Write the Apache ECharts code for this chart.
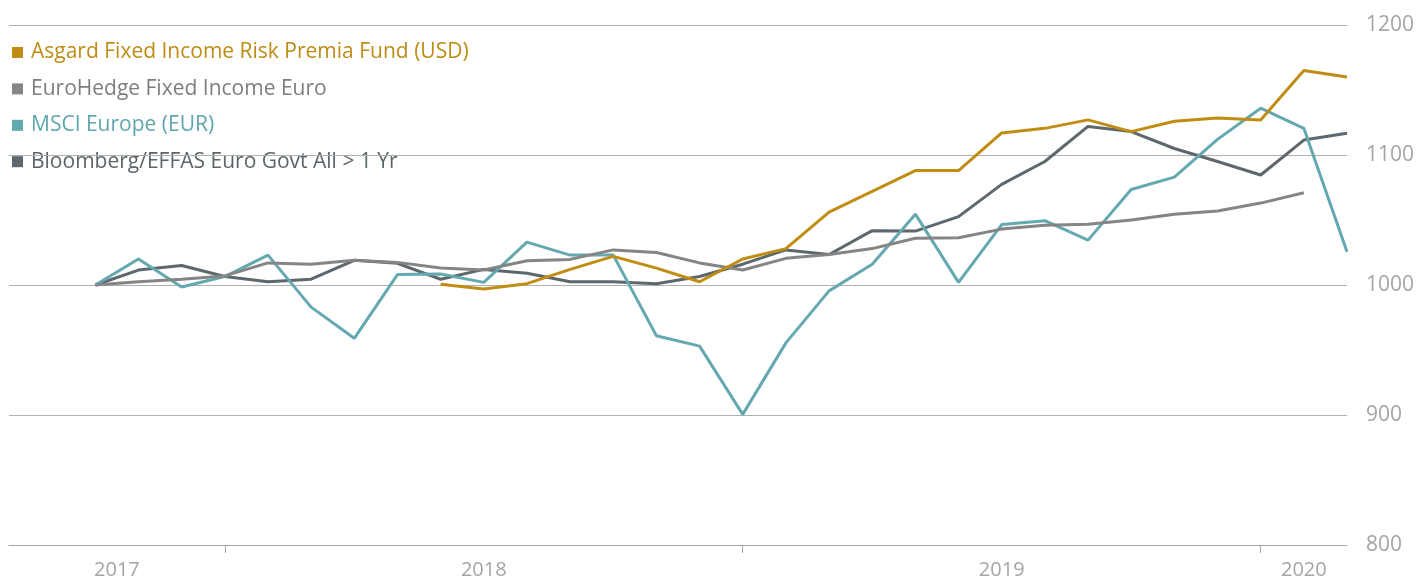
<!DOCTYPE html>
<html>
<head>
<meta charset="utf-8">
<script src="https://cdn.jsdelivr.net/npm/echarts@6/dist/echarts.min.js"></script>
<style>
  html, body { margin: 0; padding: 0; background: #fff; }
  #chart { width: 1427px; height: 583px; }
</style>
</head>
<body>
<div id="chart"></div>
<script>
// monthly points, Sep 2017 .. Feb 2020
var months = ['2017-09','2017-10','2017-11','2017-12','2018-01','2018-02','2018-03','2018-04','2018-05','2018-06',
  '2018-07','2018-08','2018-09','2018-10','2018-11','2018-12','2019-01','2019-02','2019-03','2019-04',
  '2019-05','2019-06','2019-07','2019-08','2019-09','2019-10','2019-11','2019-12','2020-01','2020-02'];

var asgard = [null, null, null, null, null, null, null, null, 1000.5, 997,
  1001, 1012, 1022, 1013, 1002.5, 1020, 1028, 1056, 1072, 1088,
  1088, 1117, 1120.5, 1127, 1118, 1126, 1128.5, 1127, 1165, 1160];

var euroHedge = [1000, 1002.5, 1004.5, 1007, 1017, 1016, 1019, 1017.4, 1013, 1011.5,
  1018.7, 1019.7, 1027, 1025, 1017, 1011.5, 1020.5, 1023.5, 1028, 1036,
  1036.4, 1043, 1046, 1046.7, 1050, 1054.5, 1057, 1063, 1071, null];

var msci = [1000, 1020, 998.5, 1006.5, 1023, 983, 959, 1008, 1008.5, 1002,
  1033, 1023, 1023, 961, 953, 900.5, 955.5, 995.5, 1016, 1054.5,
  1002, 1046.5, 1049.5, 1034.5, 1073.5, 1083, 1112, 1136, 1120.5, 1025.5];

var bloomberg = [1000, 1011.5, 1015, 1006.5, 1002.5, 1004.5, 1019, 1016.7, 1004.4, 1012,
  1009, 1002.5, 1002.5, 1001, 1006.5, 1016, 1027, 1023.5, 1041.8, 1041.5,
  1052.6, 1077.4, 1095, 1122, 1118, 1105, 1095, 1084.6, 1111.5, 1116.7];

// year boundaries (index of Dec) and year label positions (centre of each span)
var yearTicks = [3, 15, 27];
var yearLabelPos = [0.5, 9, 21, 28];
var yearLabels = ['2017', '2018', '2019', '2020'];

var names = ['Asgard Fixed Income Risk Premia Fund (USD)', 'EuroHedge Fixed Income Euro',
  'MSCI Europe (EUR)', 'Bloomberg/EFFAS Euro Govt All > 1 Yr'];
var colors = ['#C08D12', '#858585', '#64A8B0', '#5E676C'];
var textColors = ['#BE8C14', '#7E7E7E', '#5FA6AE', '#5C6569'];

function pts(arr) {
  return months.map(function (m, i) { return [i, arr[i]]; });
}

var chart = echarts.init(document.getElementById('chart'));

var series = [asgard, euroHedge, msci, bloomberg].map(function (arr, k) {
  return {
    name: names[k],
    type: 'line',
    data: pts(arr),
    showSymbol: false,
    symbol: 'none',
    connectNulls: false,
    lineStyle: { width: 3, color: colors[k] },
    itemStyle: { color: colors[k] },
    z: 10 - k
  };
});

chart.setOption({
  animation: false,
  color: colors,
  textStyle: { fontFamily: 'Open Sans' },
  legend: {
    orient: 'vertical',
    left: 7,
    top: 37,
    itemGap: 15.4,
    itemWidth: 11,
    itemHeight: 11,
    icon: 'rect',
    z: -1,
    textStyle: { fontSize: 21, padding: [0, 0, 0, 3] },
    data: names.map(function (n, k) {
      return { name: n, textStyle: { color: textColors[k] } };
    })
  },
  grid: { left: 9, right: 80, top: 25, bottom: 38 },
  xAxis: {
    type: 'value',
    min: -2,
    max: 29,
    axisLine: { show: true, lineStyle: { color: '#A6A6A6', width: 1.2 } },
    splitLine: { show: false },
    axisTick: {
      show: true,
      customValues: yearTicks,
      length: 8,
      lineStyle: { color: '#A6A6A6' }
    },
    axisLabel: {
      customValues: yearLabelPos,
      formatter: function (v) {
        var i = yearLabelPos.indexOf(v);
        return i >= 0 ? yearLabels[i] : '';
      },
      color: '#A5A5A5',
      fontSize: 20,
      margin: 15
    }
  },
  yAxis: {
    type: 'value',
    position: 'right',
    min: 800,
    max: 1200,
    interval: 100,
    axisLine: { show: false },
    axisTick: { show: false },
    splitLine: { lineStyle: { color: '#B0B0B0', width: 1.2 } },
    axisLabel: {
      color: '#A5A5A5',
      fontSize: 21,
      margin: 19,
      formatter: function (v) { return String(v); }
    }
  },
  series: series
});
</script>
</body>
</html>
